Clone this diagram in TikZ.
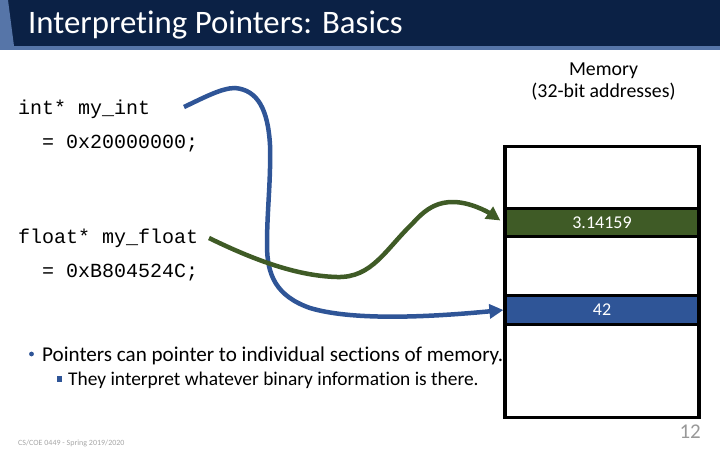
\documentclass[tikz,border=0pt]{standalone}
\usepackage{fontspec}
\setmainfont{Carlito}[Ligatures=NoCommon]
\setmonofont{Liberation Mono}
\definecolor{navy}{HTML}{0B2145}
\definecolor{steel}{HTML}{5675A8}
\definecolor{ptrblue}{HTML}{2F5597}
\definecolor{ptrgreen}{HTML}{3F5B26}
\usetikzlibrary{arrows.meta}
\tikzset{
  code/.style={anchor=north west,inner sep=0pt,align=left,font=\ttfamily\fontsize{20}{34}\selectfont,text=black},
  cell/.style={draw=black,line width=3.2pt,minimum width=194pt,minimum height=28.5pt,inner sep=0pt,text=white,font=\fontsize{18}{20}\selectfont},
  ptr/.style={line width=4.5pt,-{Triangle[length=14pt,width=14pt]}},
}
\begin{document}
\begin{tikzpicture}[x=1pt,y=-1pt]
\useasboundingbox (0,0) rectangle (720,450);
\fill[navy] (0,0) rectangle (720,46);
\fill[steel] (0,46) rectangle (720,50);
\fill[steel] (0,0) -- (8,0) -- (14,46) -- (0,46) -- cycle;
\node[anchor=base west,inner sep=0pt,text=white,font=\fontsize{32.8}{38}\selectfont] (title) at (28,33) {Interpreting Pointers: Basics};
\node[align=center,inner sep=0pt,font=\fontsize{19.8}{22}\selectfont] (memlabel) at (603.5,82) {Memory\\(32-bit addresses)};
\node[code] (intptr) at (18,100) {int* my\_int\\\ \ = 0x20000000;};
\node[code] (floatptr) at (18,229) {float* my\_float\\\ \ = 0xB804524C;};
\node[draw=black,line width=3.6pt,minimum width=194pt,minimum height=271pt,inner sep=0pt,fill=white] (mem) at (602,282) {};
\node[cell,fill=ptrgreen] (pi) at (602,222.5) {\raisebox{-1pt}{3.14159}};
\node[cell,fill=ptrblue] (answer) at (602,310) {42};
\coordinate (a) at (184,107);
\coordinate (b) at (209,238);
\draw[ptr,ptrblue] (a) .. controls (205,97) and (222,88) .. (235,88)
  .. controls (258,90) and (268,110) .. (270,145)
  .. controls (271,180) and (267,210) .. (267,245)
  .. controls (267,275) and (276,296) .. (310,308)
  .. controls (350,320) and (420,318) .. (answer.west);
\draw[ptr,ptrgreen] (b) .. controls (250,258) and (295,276) .. (337,277)
  .. controls (372,278) and (385,250) .. (413,223)
  .. controls (428,206) and (440,202) .. (453,202)
  .. controls (470,202) and (488,212) .. ([xshift=-3pt,yshift=2pt]pi.west);
\fill[ptrblue] (31.5,354) circle (2.4pt);
\node[anchor=base west,inner sep=0pt,font=\fontsize{21.1}{25}\selectfont] (b1) at (42,361) {Pointers can pointer to individual sections of memory.};
\fill[ptrblue] (57,376) rectangle (62,382);
\node[anchor=base west,inner sep=0pt,font=\fontsize{19.4}{23}\selectfont] (b2) at (68,385) {They interpret whatever binary information is there.};
\node[anchor=base west,inner sep=0pt,text=black!35,font=\fontsize{8}{10}\selectfont] (foot) at (18,445.5) {CS/COE 0449 - Spring 2019/2020};
\node[anchor=base east,inner sep=0pt,text=black!40,font=\fontsize{21}{25}\selectfont] (page) at (701,438) {12};
\end{tikzpicture}
\end{document}
